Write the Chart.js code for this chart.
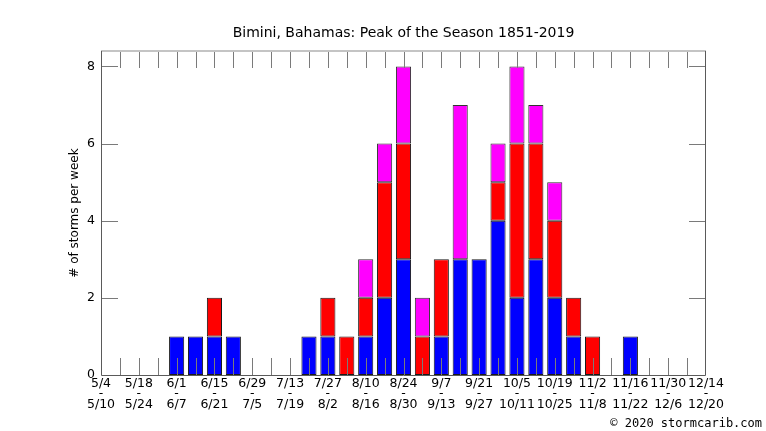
<!DOCTYPE html>
<html>
<head>
<meta charset="utf-8">
<script src="https://cdn.jsdelivr.net/npm/chart.js@4"></script>
<style>
  html, body { margin: 0; padding: 0; background: #fff; }
  #wrap { width: 766px; height: 431px; position: relative; }
</style>
</head>
<body>
<div id="wrap"><canvas id="c"></canvas></div>
<script>
const weekStarts = ['5/4','5/11','5/18','5/25','6/1','6/8','6/15','6/22','6/29','7/6','7/13','7/20','7/27','8/3','8/10','8/17','8/24','8/31','9/7','9/14','9/21','9/28','10/5','10/12','10/19','10/26','11/2','11/9','11/16','11/23','11/30','12/7','12/14'];
const weekEnds = ['5/10','5/17','5/24','5/31','6/7','6/14','6/21','6/28','7/5','7/12','7/19','7/26','8/2','8/9','8/16','8/23','8/30','9/6','9/13','9/20','9/27','10/4','10/11','10/18','10/25','11/1','11/8','11/15','11/22','11/29','12/6','12/13','12/20'];
const blueSeries =    [0,0,0,0,1,1,1,1,0,0,0,1,1,0,1,2,3,0,1,3,3,4,2,3,2,1,0,0,1,0,0,0,0];
const redSeries =     [0,0,0,0,0,0,1,0,0,0,0,0,1,1,1,3,3,1,2,0,0,1,4,3,2,1,1,0,0,0,0,0,0];
const magentaSeries = [0,0,0,0,0,0,0,0,0,0,0,0,0,0,1,1,2,1,0,4,0,1,2,1,1,0,0,0,0,0,0,0,0];
const yTickValues = [0,2,4,6,8];
const yMax = 8.4;

const innerTicks = {
  id: 'innerTicks',
  afterDatasetsDraw(chart) {
    const {ctx, chartArea: a, scales} = chart;
    const xs = scales.x, ys = scales.y;
    const L = 17;
    ctx.save();
    ctx.lineWidth = 1;
    ctx.strokeStyle = '#7a7a7a';
    ctx.beginPath();
    for (let i = 1; i < weekStarts.length - 1; i++) {
      const px = Math.round(xs.getPixelForValue(i)) + 0.5;
      ctx.moveTo(px, a.top); ctx.lineTo(px, a.top + L);
      ctx.moveTo(px, a.bottom); ctx.lineTo(px, a.bottom - L);
    }
    yTickValues.forEach(v => {
      if (v === 0) return;
      const py = Math.round(ys.getPixelForValue(v)) + 0.5;
      ctx.moveTo(a.left, py); ctx.lineTo(a.left + L, py);
      ctx.moveTo(a.right, py); ctx.lineTo(a.right - L, py);
    });
    ctx.stroke();
    ctx.strokeStyle = '#c4c4c4';
    ctx.lineWidth = 2;
    ctx.beginPath();
    ctx.moveTo(a.left, a.top); ctx.lineTo(a.right, a.top);
    ctx.stroke();
    ctx.strokeStyle = '#5a5a5a';
    ctx.lineWidth = 1;
    ctx.beginPath();
    const l = Math.round(a.left) + 0.5, r = Math.round(a.right) - 0.5, b = Math.round(a.bottom) + 0.5;
    ctx.moveTo(l, a.top); ctx.lineTo(l, b); ctx.lineTo(r, b); ctx.lineTo(r, a.top);
    ctx.stroke();
    ctx.restore();
  },
  afterDraw(chart) {
    const {ctx} = chart;
    ctx.save();
    ctx.font = '12px "DejaVu Sans Mono"';
    ctx.fillStyle = '#000';
    ctx.textAlign = 'right';
    ctx.textBaseline = 'middle';
    ctx.fillText('\u00a9 2020 stormcarib.com', 762, 424);
    ctx.restore();
  }
};

const bw = c => (c.raw ? 1 : 0);

new Chart(document.getElementById('c'), {
  type: 'bar',
  data: {
    labels: weekStarts,
    datasets: [
      { label: 'blue', data: blueSeries, backgroundColor: '#0000ff', borderColor: '#1a1a1a', borderWidth: bw, borderSkipped: false },
      { label: 'red', data: redSeries, backgroundColor: '#ff0000', borderColor: '#1a1a1a', borderWidth: bw, borderSkipped: false },
      { label: 'magenta', data: magentaSeries, backgroundColor: '#ff00ff', borderColor: '#333', borderWidth: bw, borderSkipped: false }
    ]
  },
  options: {
    responsive: true,
    maintainAspectRatio: false,
    animation: false,
    layout: { padding: { left: 0, right: 60, top: 0, bottom: 0 } },
    datasets: { bar: { barPercentage: 0.8, categoryPercentage: 1.0 } },
    plugins: {
      legend: { display: false },
      tooltip: { enabled: false },
      title: {
        display: true,
        text: 'Bimini, Bahamas: Peak of the Season 1851-2019',
        fullSize: false,
        color: '#000',
        font: { family: '"DejaVu Sans"', size: 14, weight: 'normal', lineHeight: 1.2 },
        padding: { top: 25, bottom: 9.2 }
      }
    },
    scales: {
      x: {
        stacked: true,
        offset: false,
        grid: { display: false, drawTicks: false },
        border: { display: false },
        ticks: {
          autoSkip: false,
          maxRotation: 0,
          minRotation: 0,
          padding: 3,
          color: '#000',
          font: { family: '"DejaVu Sans"', size: 12.5, lineHeight: 0.86 },
          callback: (v, i) => (i % 2 === 0 ? [weekStarts[i], '-', weekEnds[i]] : '')
        },
        afterFit: s => { s.height = 56; }
      },
      y: {
        stacked: true,
        min: 0,
        max: yMax,
        grid: { display: false, drawTicks: false },
        border: { display: false },
        ticks: {
          stepSize: 2,
          includeBounds: false,
          padding: 6,
          color: '#000',
          font: { family: '"DejaVu Sans"', size: 12.5 },
          callback: v => (yTickValues.includes(v) ? String(v) : '')
        },
        title: {
          display: true,
          text: '# of storms per week',
          color: '#000',
          font: { family: '"DejaVu Sans"', size: 12, lineHeight: 1.2 },
          padding: { top: 68, bottom: 0 }
        },
        afterFit: s => { s.width = 101; }
      }
    }
  },
  plugins: [innerTicks]
});
</script>
</body>
</html>
